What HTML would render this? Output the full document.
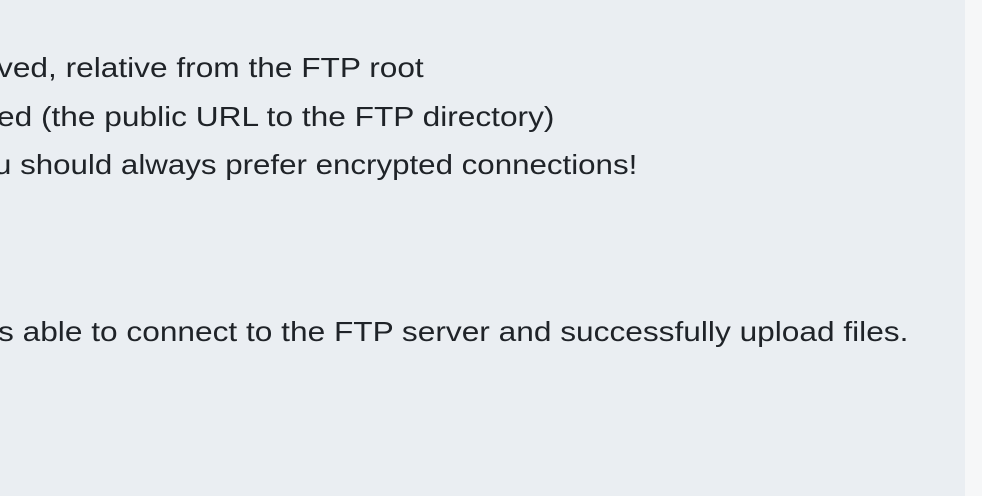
<!DOCTYPE html>
<html><head><style>
html,body{margin:0;padding:0;width:982px;height:496px;overflow:hidden;background:#f6f7f8;}
.main{position:absolute;left:0;top:0;width:965px;height:496px;background:#eaeef2;}
.t{position:absolute;white-space:nowrap;font-family:"Liberation Sans",sans-serif;font-size:28px;color:#1f2328;line-height:30px;transform:scaleX(1.13);transform-origin:0 0;}
</style></head><body>
<div class="main">
<div class="t" style="left:-3px;top:53px">ved, relative from the FTP root</div>
<div class="t" style="left:-3px;top:102px">ed (the public URL to the FTP directory)</div>
<div class="t" style="left:-6px;top:150px;transform:scaleX(1.117)">u should always prefer encrypted connections!</div>
<div class="t" style="left:-2px;top:317px">s able to connect to the FTP server and successfully upload files.</div>
</div>
</body></html>
